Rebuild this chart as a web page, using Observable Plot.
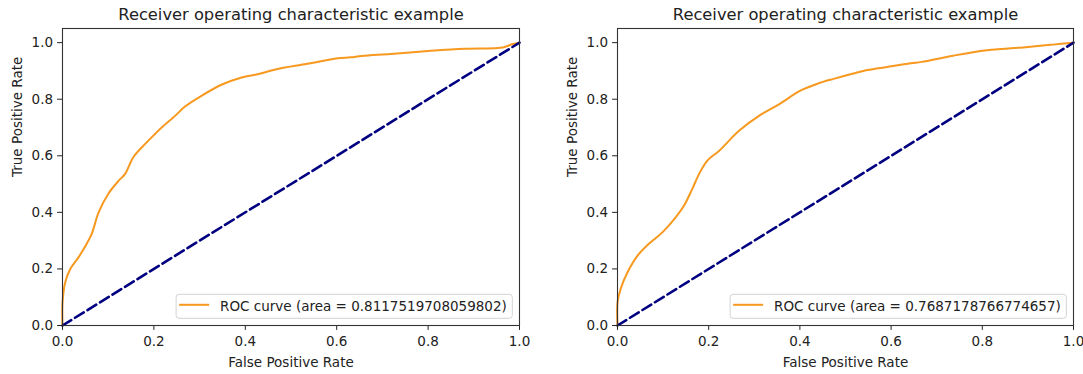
<!DOCTYPE html>
<html>
<head>
<meta charset="utf-8">
<script src="https://cdn.jsdelivr.net/npm/d3@7"></script>
<script src="https://cdn.jsdelivr.net/npm/@observablehq/plot@0.6"></script>
<style>
  html, body { margin: 0; padding: 0; background: white; }
  #wrap { position: relative; width: 1083px; height: 374px; overflow: hidden; }
  #wrap > svg { position: absolute; top: 0; }
</style>
</head>
<body>
<div id="wrap"></div>
<script>
// ---- data ----
const titleText = "Receiver operating characteristic example";
const xLabelText = "False Positive Rate";
const yLabelText = "True Positive Rate";
const tickValues = [0, 0.2, 0.4, 0.6, 0.8, 1.0];

const fprA = [0, 0, 0.006, 0.017, 0.035, 0.053, 0.064, 0.079, 0.10, 0.123, 0.137, 0.155, 0.181, 0.203, 0.217, 0.247, 0.268, 0.305, 0.349, 0.392, 0.429, 0.466, 0.535, 0.602, 0.630, 0.655, 0.718, 0.806, 0.881, 0.944, 0.966, 0.985, 1.0];
const tprA = [0, 0.08, 0.153, 0.20, 0.241, 0.289, 0.324, 0.40, 0.465, 0.512, 0.536, 0.595, 0.642, 0.678, 0.70, 0.742, 0.774, 0.813, 0.852, 0.877, 0.889, 0.905, 0.925, 0.945, 0.948, 0.953, 0.960, 0.971, 0.978, 0.980, 0.984, 0.995, 1.0];
const areaA = "0.8117519708059802";

const fprB = [0, 0, 0.007, 0.022, 0.044, 0.069, 0.099, 0.128, 0.146, 0.164, 0.179, 0.197, 0.223, 0.267, 0.311, 0.355, 0.401, 0.439, 0.474, 0.515, 0.548, 0.591, 0.643, 0.667, 0.736, 0.81, 0.90, 0.955, 1.0];
const tprB = [0, 0.082, 0.13, 0.188, 0.247, 0.289, 0.33, 0.383, 0.424, 0.483, 0.536, 0.583, 0.618, 0.689, 0.742, 0.783, 0.83, 0.855, 0.872, 0.89, 0.903, 0.914, 0.927, 0.932, 0.954, 0.973, 0.985, 0.993, 1.0];
const areaB = "0.7687178766774657";

const diagX = [0, 1];
const diagY = [0, 1];

// ---- style ----
const FONT = "DejaVu Sans";
const ORANGE = "#f7981f";
const NAVY = "navy";
const TEXT = "#222";

function measure(str, font) {
  const c = document.createElement("canvas").getContext("2d");
  c.font = font;
  return c.measureText(str).width;
}

function legendMark(label) {
  return (index, scales, values, dims) => {
    const {width, height, marginRight, marginBottom} = dims;
    const fs = 13.5;
    const right = width - marginRight - 6.7;
    const bottom = height - marginBottom - 6.7;
    const tw = measure(label, `${fs}px '${FONT}'`);
    const boxW = 44 + tw + 5.5, boxH = 24;
    const left = right - boxW, top = bottom - boxH;
    const g = d3.create("svg:g");
    g.append("rect")
      .attr("x", left).attr("y", top).attr("width", boxW).attr("height", boxH)
      .attr("rx", 3).attr("fill", "white").attr("fill-opacity", 0.8)
      .attr("stroke", "#d3d3d3").attr("stroke-width", 1);
    g.append("line")
      .attr("x1", left + 3).attr("x2", left + 33)
      .attr("y1", top + 10.5).attr("y2", top + 10.5)
      .attr("stroke", ORANGE).attr("stroke-width", 2);
    g.append("text")
      .attr("x", left + 44).attr("y", top + 12).attr("dy", "0.32em")
      .attr("text-anchor", "start")
      .attr("font-family", FONT).attr("font-size", fs).attr("fill", TEXT)
      .text(label);
    return g.node();
  };
}

function rocChart(fpr, tpr, area, width, marginLeft, marginRight) {
  const curve = fpr.map((x, i) => ({x, y: tpr[i]}));
  const diag = diagX.map((x, i) => ({x, y: diagY[i]}));
  return Plot.plot({
    width, height: 374,
    marginLeft, marginRight, marginTop: 28, marginBottom: 49,
    style: {fontFamily: FONT, background: "transparent", overflow: "visible"},
    x: {domain: [0, 1]},
    y: {domain: [0, 1.05]},
    marks: [
      Plot.line(curve, {x: "x", y: "y", stroke: ORANGE, strokeWidth: 2, curve: "catmull-rom"}),
      Plot.line(diag, {x: "x", y: "y", stroke: NAVY, strokeWidth: 2.6, strokeDasharray: "10.3,4.4"}),
      Plot.axisX({ticks: tickValues, tickFormat: d3.format(".1f"), tickSize: 4.9, tickPadding: 6, fontSize: 13.5, label: null, color: TEXT}),
      Plot.axisY({ticks: tickValues, tickFormat: d3.format(".1f"), tickSize: 4.9, tickPadding: 4.5, fontSize: 13.5, label: null, color: TEXT}),
      Plot.frame({stroke: "#333", strokeWidth: 1.1}),
      Plot.text([titleText], {text: d => d, frameAnchor: "top", dy: -13.7, lineAnchor: "middle", fontSize: 16.3, fill: TEXT}),
      Plot.text([xLabelText], {text: d => d, frameAnchor: "bottom", dy: 36.7, lineAnchor: "middle", fontSize: 13.5, fill: TEXT}),
      Plot.text([yLabelText], {text: d => d, frameAnchor: "left", dx: -44.5, rotate: -90, lineAnchor: "middle", fontSize: 13.5, fill: TEXT}),
      legendMark(`ROC curve (area = ${area})`)
    ]
  });
}

const wrap = document.getElementById("wrap");
const left = rocChart(fprA, tprA, areaA, 541, 62, 22);
left.style.left = "0px";
const right = rocChart(fprB, tprB, areaB, 542, 76, 10);
right.style.left = "541px";
wrap.appendChild(left);
wrap.appendChild(right);
</script>
</body>
</html>
